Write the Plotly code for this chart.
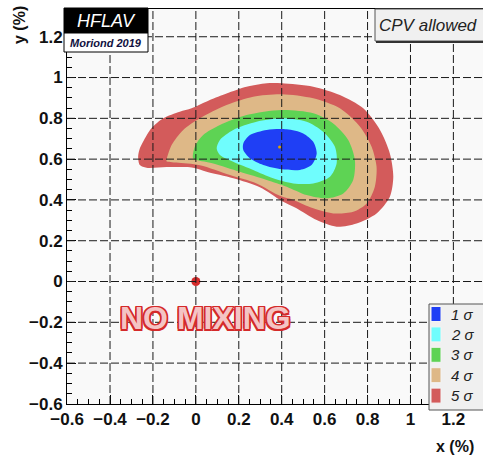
import plotly.graph_objects as go

# ---------------- data ----------------
level_names = ["5 σ", "4 σ", "3 σ", "2 σ", "1 σ"]
level_colors = ["#d35b5b", "#deb887", "#5ed354", "#6ffdfd", "#1f3ff5"]

red_x = [-0.269, -0.262, -0.246, -0.207, -0.152, -0.075, -0.020, 0.065, 0.143, 0.236, 0.330, 0.400,
         0.547, 0.671, 0.780, 0.858, 0.904, 0.920, 0.904, 0.842, 0.749, 0.656, 0.563, 0.469,
         0.400, 0.298, 0.174, 0.050, -0.013, -0.137, -0.230, -0.261]
red_y = [0.612, 0.650, 0.685, 0.751, 0.800, 0.832, 0.849, 0.890, 0.922, 0.955, 0.972, 0.972,
         0.955, 0.914, 0.849, 0.743, 0.628, 0.514, 0.416, 0.334, 0.285, 0.269, 0.301, 0.359,
         0.395, 0.462, 0.506, 0.538, 0.558, 0.561, 0.558, 0.571]

tan_x = [-0.137, -0.113, -0.059, 0.019, 0.143, 0.267, 0.400, 0.547, 0.671, 0.765, 0.819, 0.842,
         0.834, 0.796, 0.733, 0.640, 0.547, 0.454, 0.392, 0.283, 0.159, 0.019, -0.090, -0.137]
tan_y = [0.596, 0.669, 0.743, 0.800, 0.865, 0.906, 0.918, 0.898, 0.849, 0.759, 0.661, 0.563,
         0.465, 0.383, 0.342, 0.334, 0.359, 0.400, 0.420, 0.481, 0.522, 0.570, 0.583, 0.590]

green_x = [-0.013, -0.005, 0.034, 0.112, 0.236, 0.400, 0.547, 0.640, 0.710, 0.741, 0.733, 0.687,
           0.609, 0.516, 0.423, 0.330, 0.205, 0.081, 0.003]
green_y = [0.604, 0.661, 0.718, 0.767, 0.816, 0.841, 0.825, 0.775, 0.694, 0.596, 0.498, 0.432,
           0.408, 0.424, 0.465, 0.498, 0.538, 0.579, 0.596]

cyan_x = [0.097, 0.112, 0.174, 0.283, 0.400, 0.516, 0.593, 0.648, 0.656, 0.625, 0.547, 0.454,
          0.360, 0.267, 0.174, 0.112]
cyan_y = [0.653, 0.694, 0.743, 0.783, 0.800, 0.783, 0.734, 0.661, 0.579, 0.514, 0.481, 0.481,
          0.506, 0.547, 0.587, 0.620]

blue_x = [0.221, 0.252, 0.330, 0.423, 0.500, 0.547, 0.563, 0.539, 0.485, 0.400, 0.314, 0.252, 0.221]
blue_y = [0.677, 0.718, 0.743, 0.746, 0.726, 0.685, 0.628, 0.571, 0.547, 0.550, 0.571, 0.604, 0.645]

best_fit_x = [0.39]
best_fit_y = [0.66]
no_mixing_x = [0.0]
no_mixing_y = [0.0]

tick_vals = [-0.6, -0.4, -0.2, 0.0, 0.2, 0.4, 0.6, 0.8, 1.0, 1.2]
tick_text = ["−0.6", "−0.4", "−0.2", "0", "0.2", "0.4", "0.6", "0.8", "1", "1.2"]

# ---------------- figure ----------------
W, H = 483, 461
L, R, T, B = 67, 0, 9, 57
PW, PH = W - L - R, H - T - B


def px(x):
    return (x - L) / PW


def py(y):
    return (H - B - y) / PH


fig = go.Figure()
regions = [(red_x, red_y), (tan_x, tan_y), (green_x, green_y), (cyan_x, cyan_y), (blue_x, blue_y)]
for (xs, ys), name, col in zip(regions, level_names, level_colors):
    fig.add_trace(go.Scatter(
        x=xs + xs[:1], y=ys + ys[:1], mode="lines", fill="toself", fillcolor=col,
        line=dict(width=0, color=col, shape="spline", smoothing=0.8),
        name=name, showlegend=False, hoverinfo="skip"))

fig.add_trace(go.Scatter(x=best_fit_x, y=best_fit_y, mode="markers",
                         marker=dict(size=3, color="#e0a000"), showlegend=False, hoverinfo="skip"))
fig.add_trace(go.Scatter(x=no_mixing_x, y=no_mixing_y, mode="markers",
                         marker=dict(size=9, color="#d42a2a"), showlegend=False, hoverinfo="skip"))

shapes = []
grid_dash = "8px,3px"
for t in tick_vals[1:]:
    shapes.append(dict(type="line", xref="x", yref="paper", x0=t, x1=t, y0=0, y1=1,
                       line=dict(color="#1a1a1a", width=1, dash=grid_dash), layer="above"))
    shapes.append(dict(type="line", xref="paper", yref="y", x0=0, x1=1, y0=t, y1=t,
                       line=dict(color="#1a1a1a", width=1, dash=grid_dash), layer="above"))

# HFLAV logo boxes
shapes.append(dict(type="rect", xref="paper", yref="paper", x0=px(64), x1=px(148), y0=py(33), y1=py(8),
                   fillcolor="black", line=dict(color="black", width=1), layer="above"))
shapes.append(dict(type="rect", xref="paper", yref="paper", x0=px(64), x1=px(148), y0=py(52), y1=py(33),
                   fillcolor="white", line=dict(color="black", width=1), layer="above"))
# CPV allowed box
shapes.append(dict(type="rect", xref="paper", yref="paper", x0=px(375), x1=px(492), y0=py(41), y1=py(9),
                   fillcolor="#f0f0f0", line=dict(color="#555555", width=1), layer="above"))
shapes.append(dict(type="line", xref="paper", yref="paper", x0=px(376), x1=px(492), y0=py(42), y1=py(42),
                   line=dict(color="#333333", width=2), layer="above"))
# legend box
shapes.append(dict(type="rect", xref="paper", yref="paper", x0=px(429), x1=px(492), y0=py(410), y1=py(304),
                   fillcolor="#f0f0f0", line=dict(color="#555555", width=1), layer="above"))

annotations = []
for i, (name, col) in enumerate(zip(level_names[::-1], level_colors[::-1])):
    top = 306.5 + i * 20.4
    shapes.append(dict(type="rect", xref="paper", yref="paper", x0=px(431), x1=px(441),
                       y0=py(top + 15), y1=py(top), fillcolor=col,
                       line=dict(color="#f4f4f4", width=1), layer="above"))
    annotations.append(dict(xref="paper", yref="paper", x=px(449), y=py(top + 7.5), text=name,
                            showarrow=False, xanchor="left", yanchor="middle",
                            font=dict(family="Liberation Sans, Arial", size=15, color="#222",
                                      style="italic")))

annotations += [
    dict(xref="paper", yref="paper", x=px(106), y=py(20.5), text="HFLAV", showarrow=False,
         xanchor="center", yanchor="middle",
         font=dict(family="Liberation Sans, Arial", size=18, color="white", style="italic")),
    dict(xref="paper", yref="paper", x=px(106), y=py(42.5), text="Moriond 2019", showarrow=False,
         xanchor="center", yanchor="middle",
         font=dict(family="Liberation Sans, Arial", size=11, color="#101040", style="italic",
                   weight="bold")),
    dict(xref="paper", yref="paper", x=px(428), y=py(25), text="CPV allowed", showarrow=False,
         xanchor="center", yanchor="middle",
         font=dict(family="Liberation Sans, Arial", size=17, color="#222", style="italic")),
    dict(xref="x", yref="y", x=0.044, y=-0.18, text="NO MIXING", showarrow=False,
         xanchor="center", yanchor="middle",
         font=dict(family="Liberation Sans, Arial", size=32, color="#f4c4c4", weight="bold",
                   shadow="1.5px 1.5px 0 #d42a2a, -1.5px -1.5px 0 #d42a2a, 1.5px -1.5px 0 #d42a2a, "
                          "-1.5px 1.5px 0 #d42a2a, 0 1.5px 0 #d42a2a, 0 -1.5px 0 #d42a2a, "
                          "1.5px 0 0 #d42a2a, -1.5px 0 0 #d42a2a")),
    dict(xref="paper", yref="paper", x=px(19), y=py(25), text="y (%)", showarrow=False,
         textangle=-90, xanchor="center", yanchor="middle",
         font=dict(family="Liberation Sans, Arial", size=16, color="#111", weight="bold")),
    dict(xref="paper", yref="paper", x=px(455), y=py(447), text="x (%)", showarrow=False,
         xanchor="center", yanchor="middle",
         font=dict(family="Liberation Sans, Arial", size=16, color="#111", weight="bold")),
]

axis_common = dict(
    tickmode="array", tickvals=tick_vals, ticktext=tick_text,
    ticks="inside", ticklen=9, tickwidth=1, tickcolor="black",
    minor=dict(ticks="inside", ticklen=5, tickcolor="black", dtick=0.05, tick0=0, showgrid=False),
    showgrid=False, zeroline=False, showline=True, linecolor="black", linewidth=1, mirror=True,
    tickfont=dict(family="Liberation Sans, Arial", size=17, color="#111", weight="bold"),
    layer="above traces",
)

fig.update_layout(
    width=W, height=H,
    margin=dict(l=L, r=R, t=T, b=B),
    paper_bgcolor="white", plot_bgcolor="#f9f9f9",
    xaxis=dict(range=[-0.6005, 1.338], **axis_common),
    yaxis=dict(range=[-0.6005, 1.336], **axis_common),
    shapes=shapes, annotations=annotations, showlegend=False,
)

fig.write_html("out.html")
